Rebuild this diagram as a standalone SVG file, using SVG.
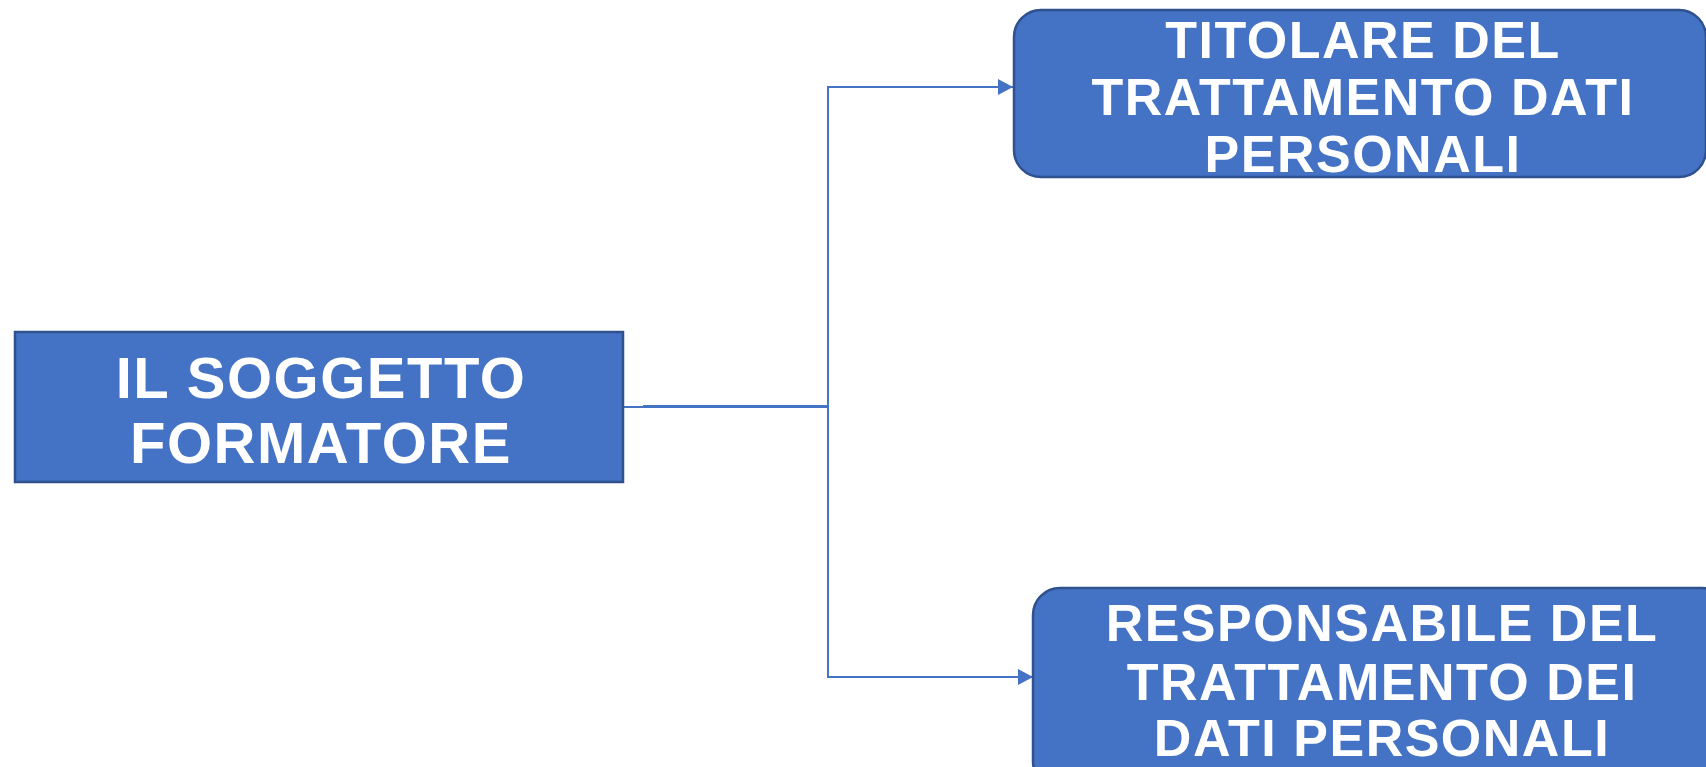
<svg xmlns="http://www.w3.org/2000/svg" width="1706" height="767" viewBox="0 0 1706 767">
<style>
.box{fill:#4472C4;stroke:#2F528F;stroke-width:2.5}
.lbl{font-family:"Liberation Sans",Arial,sans-serif;font-weight:bold;fill:#FFFFFF;text-anchor:middle;letter-spacing:1.5px}
.con{fill:none;stroke:#4472C4;stroke-width:2}
</style>
<defs>
<marker id="arr" markerUnits="userSpaceOnUse" markerWidth="16" markerHeight="18" refX="15" refY="8" orient="auto">
<path d="M0,0 L15,8 L0,16 Z" fill="#4472C4"/>
</marker>
</defs>
<rect width="1706" height="767" fill="#FFFFFF"/>
<g id="connectors">
<path class="con" d="M623 407 H643"/>
<path class="con" d="M643 406.5 H828" style="stroke-width:3"/>
<path class="con" d="M828 407 V87 H1013" marker-end="url(#arr)"/>
<path class="con" d="M828 407 V677 H1033" marker-end="url(#arr)"/>
</g>
<g id="node-soggetto">
<rect class="box" x="15" y="332" width="608" height="150"/>
<text class="lbl" font-size="58" x="321" y="398">IL SOGGETTO</text>
<text class="lbl" font-size="58" x="321" y="463">FORMATORE</text>
</g>
<g id="node-titolare">
<rect class="box" x="1014" y="10" width="692" height="167" rx="27" ry="27"/>
<text class="lbl" font-size="52" x="1363" y="58">TITOLARE DEL</text>
<text class="lbl" font-size="52" x="1363" y="115">TRATTAMENTO DATI</text>
<text class="lbl" font-size="52" x="1363" y="172">PERSONALI</text>
</g>
<g id="node-responsabile">
<rect class="box" x="1033" y="588" width="696" height="200" rx="27" ry="27"/>
<text class="lbl" font-size="52" x="1382" y="641">RESPONSABILE DEL</text>
<text class="lbl" font-size="52" x="1382" y="700">TRATTAMENTO DEI</text>
<text class="lbl" font-size="52" x="1382" y="756">DATI PERSONALI</text>
</g>
</svg>
